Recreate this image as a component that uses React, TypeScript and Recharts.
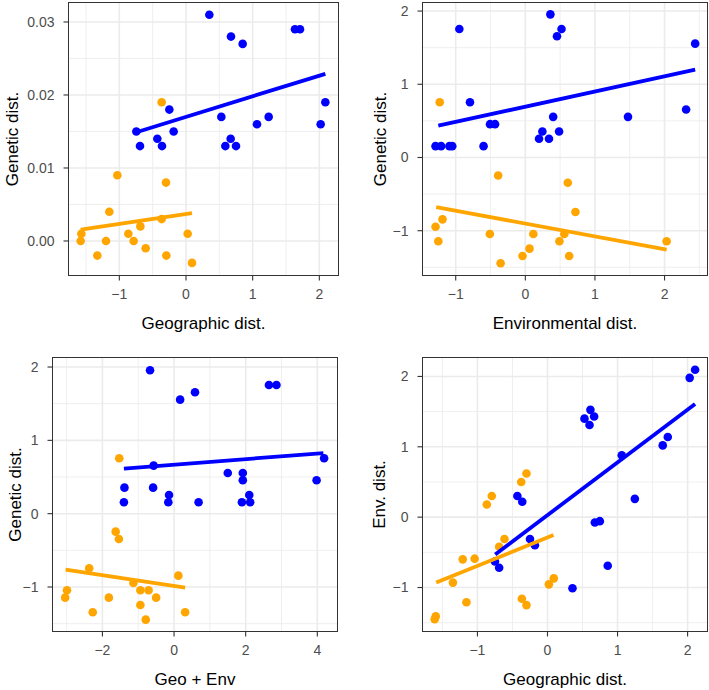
import React from 'react';
import { ScatterChart, Scatter, XAxis, YAxis, CartesianGrid } from 'recharts';

const BLUE = '#0000FF';
const ORANGE = '#FFA500';
const FONT = '"Liberation Sans", Arial, Helvetica, sans-serif';

// panel 1: geographic dist. vs genetic dist.
const geoGenBlue = [
  [0.35, 0.031], [0.675, 0.028], [0.85, 0.027], [1.635, 0.029], [1.71, 0.029],
  [2.09, 0.019], [2.02, 0.016], [1.24, 0.017], [1.065, 0.016], [0.53, 0.017],
  [0.67, 0.014], [0.59, 0.013], [0.75, 0.013], [-0.25, 0.018], [-0.185, 0.015],
  [-0.43, 0.014], [-0.36, 0.013], [-0.745, 0.015], [-0.69, 0.013],
];
const geoGenOrange = [
  [-0.365, 0.019], [-1.03, 0.009], [-0.3, 0.008], [-1.15, 0.004], [-0.365, 0.003],
  [-0.685, 0.002], [-0.865, 0.001], [-1.57, 0.001], [-1.58, 0.0], [-1.2, 0.0],
  [-0.785, 0.0], [0.025, 0.001], [-1.33, -0.002], [-0.605, -0.001], [-0.295, -0.002],
  [0.09, -0.003],
];
const geoGenBlueFit = [[-0.745, 0.0149], [2.09, 0.0229]];
const geoGenOrangeFit = [[-1.58, 0.00155], [0.09, 0.0038]];

// panel 2: environmental dist. vs genetic dist.
const envGenBlue = [
  [-0.948, 1.755], [0.36, 1.955], [0.52, 1.755], [0.455, 1.655], [2.44, 1.555],
  [-0.795, 0.755], [2.31, 0.655], [1.475, 0.555], [0.4, 0.555], [-0.507, 0.455],
  [-0.435, 0.455], [0.245, 0.355], [0.485, 0.355], [0.197, 0.255], [0.34, 0.255],
  [-1.29, 0.155], [-1.21, 0.155], [-1.09, 0.155], [-1.05, 0.155], [-0.6, 0.155],
];
const envGenOrange = [
  [-1.23, 0.755], [-0.39, -0.245], [0.61, -0.345], [0.72, -0.745], [-1.19, -0.845],
  [-1.29, -0.945], [-0.51, -1.045], [0.115, -1.045], [0.56, -1.045], [-1.25, -1.145],
  [0.49, -1.145], [2.03, -1.145], [0.06, -1.245], [-0.04, -1.345], [0.63, -1.345],
  [-0.355, -1.445],
];
const envGenBlueFit = [[-1.25, 0.435], [2.44, 1.2]];
const envGenOrangeFit = [[-1.28, -0.678], [2.03, -1.26]];

// panel 3: geo + env vs genetic dist.
const sumGenBlue = [
  [-0.67, 1.955], [0.17, 1.555], [0.585, 1.655], [2.65, 1.755], [2.86, 1.755],
  [4.19, 0.755], [-0.57, 0.655], [1.5, 0.555], [1.92, 0.555], [1.92, 0.455],
  [3.98, 0.455], [-1.385, 0.355], [-0.585, 0.355], [-0.14, 0.255], [-0.16, 0.155],
  [-1.4, 0.155], [0.685, 0.155], [1.895, 0.155], [2.125, 0.155], [2.1, 0.255],
];
const sumGenOrange = [
  [-1.53, 0.755], [-1.63, -0.245], [-1.54, -0.345], [-2.37, -0.745], [0.12, -0.845],
  [-1.135, -0.945], [-2.99, -1.045], [-0.94, -1.045], [-0.71, -1.045], [-3.04, -1.145],
  [-1.82, -1.145], [-0.5, -1.145], [-0.94, -1.245], [-2.27, -1.345], [0.31, -1.345],
  [-0.79, -1.445],
];
const sumGenBlueFit = [[-1.4, 0.614], [4.17, 0.827]];
const sumGenOrangeFit = [[-3.03, -0.764], [0.31, -1.01]];

// panel 4: geographic dist. vs env. dist.
const geoEnvBlue = [
  [2.107, 2.095], [2.03, 1.98], [0.613, 1.525], [0.528, 1.4], [0.666, 1.43],
  [0.6, 1.31], [1.717, 1.14], [1.645, 1.02], [1.06, 0.88], [1.247, 0.26],
  [-0.43, 0.3], [-0.36, 0.22], [0.676, -0.077], [0.747, -0.057], [-0.25, -0.31],
  [-0.18, -0.4], [0.86, -0.69], [-0.75, -0.63], [-0.69, -0.72], [0.357, -1.01],
];
const geoEnvOrange = [
  [-0.3, 0.62], [-0.375, 0.5], [-0.795, 0.3], [-0.866, 0.18], [-0.614, -0.31],
  [-0.69, -0.42], [-1.21, -0.6], [-1.04, -0.59], [-1.35, -0.93], [0.09, -0.87],
  [0.02, -0.955], [-1.157, -1.21], [-0.366, -1.16], [-0.3, -1.25], [-1.595, -1.41],
  [-1.61, -1.45],
];
const geoEnvBlueFit = [[-0.746, -0.53], [2.107, 1.607]];
const geoEnvOrangeFit = [[-1.588, -0.93], [0.086, -0.255]];

const unitTicks = [-1, 0, 1, 2];
const unitMinor = [-1.5, -0.5, 0.5, 1.5, 2.5];
const sumTicks = [-2, 0, 2, 4];
const sumMinor = [-3, -1, 1, 3];
const rawGenTicks = [0, 0.01, 0.02, 0.03];
const rawGenMinor = [-0.005, 0.005, 0.015, 0.025];

const toPts = (pairs: number[][]) => pairs.map(([x, y]) => ({ x, y }));
const minus = (v: number) => (v < 0 ? '\u2212' + Math.abs(v) : String(v));

const dot = (color: string) => (p: any) => <circle cx={p.cx} cy={p.cy} r={4.3} fill={color} />;

interface PanelProps {
  plotLeft: number;
  plotTop: number;
  plotW: number;
  plotH: number;
  yW: number;
  xH: number;
  yTitleOffset: number;
  xTitle: string;
  yTitle: string;
  xDomain: [number, number];
  yDomain: [number, number];
  xTicks: number[];
  yTicks: number[];
  xMinor: number[];
  yMinor: number[];
  yFormat?: (v: number) => string;
  blue: number[][];
  orange: number[][];
  blueFit: number[][];
  orangeFit: number[][];
}

function Panel(p: PanelProps) {
  const keep = (vals: number[], d: [number, number]) => vals.filter((v) => v > d[0] && v < d[1]);
  const tickStyle = { fill: '#4D4D4D', fontSize: 14, fontFamily: FONT };
  const titleStyle = { fill: '#000000', fontSize: 17, fontFamily: FONT };
  return (
    <>
      <div style={{ position: 'absolute', left: p.plotLeft - p.yW, top: p.plotTop - 2 }}>
        <ScatterChart
          width={p.yW + p.plotW + 2}
          height={p.plotH + p.xH + 2}
          margin={{ top: 2, right: 2, bottom: 0, left: 0 }}
        >
          <CartesianGrid
            stroke="#EBEBEB"
            strokeWidth={0.8}
            verticalValues={keep(p.xMinor, p.xDomain)}
            horizontalValues={keep(p.yMinor, p.yDomain)}
          />
          <CartesianGrid
            stroke="#EBEBEB"
            strokeWidth={1.6}
            verticalValues={p.xTicks}
            horizontalValues={p.yTicks}
          />
          <XAxis
            type="number"
            dataKey="x"
            domain={p.xDomain}
            ticks={p.xTicks}
            allowDataOverflow
            height={p.xH}
            axisLine={false}
            tickSize={5.5}
            tickMargin={9}
            tickLine={{ stroke: '#333333', strokeWidth: 1.1 }}
            tick={tickStyle}
            tickFormatter={minus}
            label={{
              value: p.xTitle,
              position: 'insideBottom',
              offset: p.xH - 54,
              style: titleStyle,
            }}
          />
          <YAxis
            type="number"
            dataKey="y"
            domain={p.yDomain}
            ticks={p.yTicks}
            allowDataOverflow
            width={p.yW}
            axisLine={false}
            tickSize={5.5}
            tickMargin={9}
            tickLine={{ stroke: '#333333', strokeWidth: 1.1 }}
            tick={tickStyle}
            tickFormatter={p.yFormat ?? minus}
            label={{
              value: p.yTitle,
              angle: -90,
              position: 'insideLeft',
              offset: p.yTitleOffset,
              style: { ...titleStyle, textAnchor: 'middle' },
            }}
          />
          <Scatter data={toPts(p.orange)} fill={ORANGE} shape={dot(ORANGE)} isAnimationActive={false} />
          <Scatter data={toPts(p.blue)} fill={BLUE} shape={dot(BLUE)} isAnimationActive={false} />
          <Scatter
            data={toPts(p.orangeFit)}
            fill={ORANGE}
            line={{ stroke: ORANGE, strokeWidth: 3.8 }}
            shape={() => <g />}
            isAnimationActive={false}
          />
          <Scatter
            data={toPts(p.blueFit)}
            fill={BLUE}
            line={{ stroke: BLUE, strokeWidth: 3.8 }}
            shape={() => <g />}
            isAnimationActive={false}
          />
        </ScatterChart>
      </div>
      <div
        style={{
          position: 'absolute',
          boxSizing: 'border-box',
          left: p.plotLeft - 0.6,
          top: p.plotTop - 0.6,
          width: p.plotW + 1.2,
          height: p.plotH + 1.2,
          border: '1.2px solid #333333',
          pointerEvents: 'none',
        }}
      />
    </>
  );
}

export default function App() {
  return (
    <div style={{ position: 'absolute', left: 0, top: 0, width: 709, height: 690, background: '#fff' }}>
      <Panel
        plotLeft={69} plotTop={3} plotW={269} plotH={272} yW={69} xH={70} yTitleOffset={12}
        xTitle="Geographic dist." yTitle="Genetic dist."
        xDomain={[-1.755, 2.28]} yDomain={[-0.00466, 0.0326]}
        xTicks={unitTicks} yTicks={rawGenTicks} xMinor={unitMinor} yMinor={rawGenMinor}
        yFormat={(v) => v.toFixed(2)}
        blue={geoGenBlue} orange={geoGenOrange} blueFit={geoGenBlueFit} orangeFit={geoGenOrangeFit}
      />
      <Panel
        plotLeft={423} plotTop={3} plotW={284} plotH={272} yW={73} xH={70} yTitleOffset={30}
        xTitle="Environmental dist." yTitle="Genetic dist."
        xDomain={[-1.47, 2.61]} yDomain={[-1.605, 2.11]}
        xTicks={unitTicks} yTicks={unitTicks} xMinor={unitMinor} yMinor={unitMinor}
        blue={envGenBlue} orange={envGenOrange} blueFit={envGenBlueFit} orangeFit={envGenOrangeFit}
      />
      <Panel
        plotLeft={53} plotTop={358} plotW={284} plotH={273} yW={53} xH={58} yTitleOffset={15}
        xTitle="Geo + Env" yTitle="Genetic dist."
        xDomain={[-3.38, 4.55]} yDomain={[-1.6, 2.123]}
        xTicks={sumTicks} yTicks={unitTicks} xMinor={sumMinor} yMinor={unitMinor}
        blue={sumGenBlue} orange={sumGenOrange} blueFit={sumGenBlueFit} orangeFit={sumGenOrangeFit}
      />
      <Panel
        plotLeft={423} plotTop={358} plotW={284} plotH={273} yW={73} xH={58} yTitleOffset={29}
        xTitle="Geographic dist." yTitle="Env. dist."
        xDomain={[-1.777, 2.277]} yDomain={[-1.618, 2.262]}
        xTicks={unitTicks} yTicks={unitTicks} xMinor={unitMinor} yMinor={unitMinor}
        blue={geoEnvBlue} orange={geoEnvOrange} blueFit={geoEnvBlueFit} orangeFit={geoEnvOrangeFit}
      />
    </div>
  );
}
